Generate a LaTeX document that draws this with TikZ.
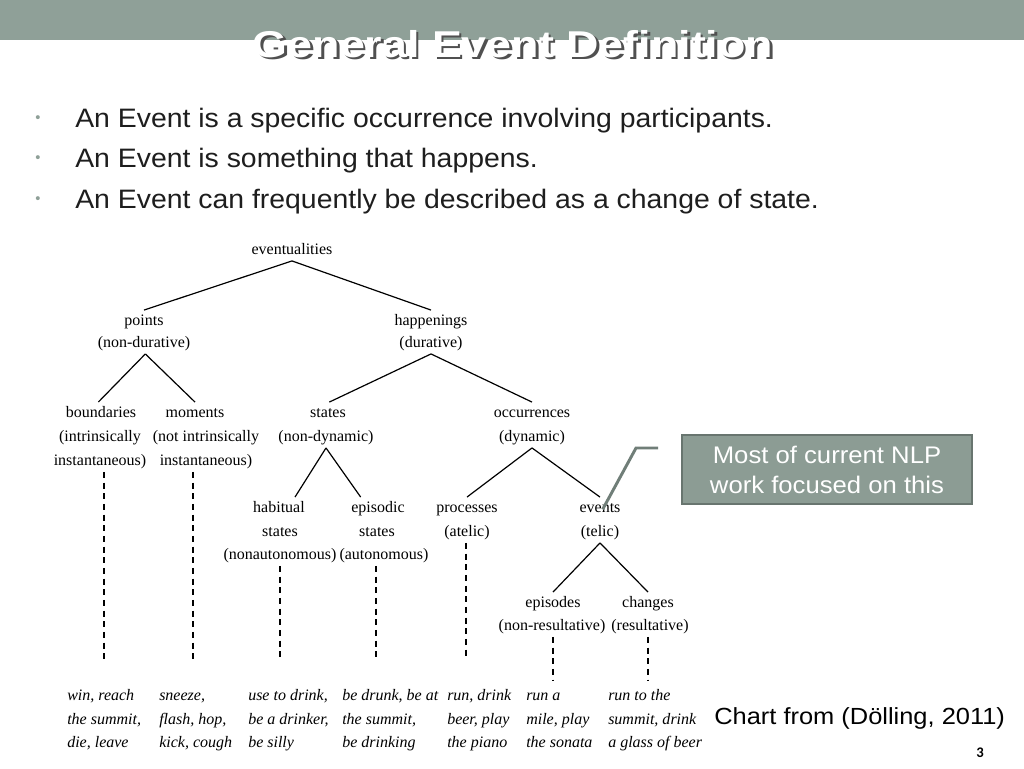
\documentclass[tikz,border=0pt]{standalone}
\usepackage{fontspec}
\setmainfont{Liberation Serif}
\newfontfamily\arial{Liberation Sans}
\newfontfamily\arialwide[FakeStretch=1.065]{Liberation Sans}
\newfontfamily\arialtitle[FakeStretch=1.2]{Liberation Sans}
\newfontfamily\arialbox[FakeStretch=1.07]{Liberation Sans}
\newfontfamily\arialcite[FakeStretch=1.09]{Liberation Sans}
\newfontfamily\carl{Carlito}
\usetikzlibrary{calc}
\definecolor{bar}{RGB}{143,160,152}
\definecolor{boxfill}{RGB}{140,156,148}
\definecolor{boxline}{RGB}{104,117,111}
\definecolor{callout}{RGB}{112,126,120}
\definecolor{shadowc}{RGB}{80,80,80}
\definecolor{bodytext}{RGB}{30,30,30}
\newcommand{\shadowtitle}[1]{\rlap{\kern1.9pt\raisebox{-1.9pt}{\color{shadowc}#1}}#1}
\begin{document}
\begin{tikzpicture}[x=0.75pt,y=-0.75pt,
  tl/.style={font=\fontsize{12}{14}\selectfont, inner sep=2.5pt, text height=8.5pt, text depth=2.5pt, anchor=base},
  br/.style={line width=0.9pt, black},
  dl/.style={line width=1.1pt, dash pattern=on 4.5pt off 3.5pt},
  extext/.style={font=\fontsize{12}{17.6}\selectfont\itshape, align=left, anchor=north west, inner sep=0pt},
  bultext/.style={font=\arialwide\fontsize{20}{22}\selectfont, text=bodytext, anchor=base west, inner sep=0pt},
  buldot/.style={font=\arial\fontsize{11}{12}\selectfont, text=bar, inner sep=0pt},
  notebox/.style={fill=boxfill, draw=boxline, line width=1.5pt, text=white, align=center,
    font=\arialbox\fontsize{18}{22.5}\selectfont, minimum width=217pt, minimum height=52pt, inner sep=0pt},
  titletext/.style={font=\arialtitle\bfseries\fontsize{28}{30}\selectfont, anchor=base, inner sep=0pt}
]
\useasboundingbox (0,0) rectangle (1024,768);
\fill[white] (0,0) rectangle (1024,768);
\fill[bar] (0,0) rectangle (1024,40);

% title (with shadow)
\node[titletext, text=white] (title) at (513,57) {\shadowtitle{General Event Definition}};

% bullets
\node[buldot] (b1) at (38,119) {•};
\node[buldot] (b2) at (38,159) {•};
\node[buldot] (b3) at (38,200) {•};
\node[bultext] (t1) at (75,127) {An Event is a specific occurrence involving participants.};
\node[bultext] (t2) at (75,167) {An Event is something that happens.};
\node[bultext] (t3) at (75,208) {An Event can frequently be described as a change of state.};

% tree
\node[tl] (ev) at (292,254) {eventualities};
\node[tl] (pts) at (144,325) {points};
\node[tl] (ptsd) at (144,347) {(non-durative)};
\node[tl] (hap) at (431,325) {happenings};
\node[tl] (hapd) at (431,347) {(durative)};
\node[tl] (bnd) at (101,417) {boundaries};
\node[tl] (bnd1) at (100,441) {(intrinsically};
\node[tl] (bnd2) at (100,465) {instantaneous)};
\node[tl] (mom) at (195,417) {moments};
\node[tl] (mom1) at (206,441) {(not intrinsically};
\node[tl] (mom2) at (206,465) {instantaneous)};
\node[tl] (sta) at (328,417) {states};
\node[tl] (stad) at (326,441) {(non-dynamic)};
\node[tl] (occ) at (532,417) {occurrences};
\node[tl] (occd) at (532,441) {(dynamic)};
\node[tl] (hab) at (279,512) {habitual};
\node[tl] (hab1) at (280,536) {states};
\node[tl] (hab2) at (280,559) {(nonautonomous)};
\node[tl] (epi) at (378,512) {episodic};
\node[tl] (epi1) at (377,536) {states};
\node[tl] (epi2) at (384,559) {(autonomous)};
\node[tl] (pro) at (467,512) {processes};
\node[tl] (prod) at (467,536) {(atelic)};
\node[tl] (evt) at (600,512) {events};
\node[tl] (evtd) at (600,536) {(telic)};
\node[tl] (eps) at (553,607) {episodes};
\node[tl] (epsd) at (552,630) {(non-resultative)};
\node[tl] (chg) at (648,607) {changes};
\node[tl] (chgd) at (650,630) {(resultative)};

\draw[br] (ev.south) -- (pts.north);
\draw[br] (ev.south) -- (hap.north);
\draw[br] ([xshift=1pt]ptsd.south) -- ([xshift=-2pt]bnd.north);
\draw[br] ([xshift=1pt]ptsd.south) -- (mom.north);
\draw[br] (hapd.south) -- ([xshift=1pt]sta.north);
\draw[br] (hapd.south) -- (occ.north);
\draw[br] (stad.south) -- ([xshift=12pt]hab.north);
\draw[br] (stad.south) -- ([xshift=-13pt]epi.north);
\draw[br] (occd.south) -- (pro.north);
\draw[br] (occd.south) -- (evt.north);
\draw[br] (evtd.south) -- (eps.north);
\draw[br] (evtd.south) -- (chg.north);

% dashed links
\coordinate (d1) at (104,660);
\coordinate (d2) at (193,660);
\coordinate (d3) at (280,660);
\coordinate (d4) at (376,660);
\coordinate (d5) at (466,660);
\coordinate (d6) at (553,681);
\coordinate (d7) at (648,681);
\draw[dl] (bnd2.south -| d1) -- (d1);
\draw[dl] (mom2.south -| d2) -- (d2);
\draw[dl] (hab2.south -| d3) -- (d3);
\draw[dl] (epi2.south -| d4) -- (d4);
\draw[dl] (prod.south -| d5) -- (d5);
\draw[dl] (epsd.south -| d6) -- (d6);
\draw[dl] (chgd.south -| d7) -- (d7);

% examples
\node[extext] (ex1) at (67,684) {\strut win, reach\\the summit,\\die, leave};
\node[extext] (ex2) at (159,684) {\strut sneeze,\\flash, hop,\\kick, cough};
\node[extext] (ex3) at (248,684) {\strut use to drink,\\be a drinker,\\be silly};
\node[extext] (ex4) at (342,684) {\strut be drunk, be at\\the summit,\\be drinking};
\node[extext] (ex5) at (447,684) {\strut run, drink\\beer, play\\the piano};
\node[extext] (ex6) at (526,684) {\strut run a\\mile, play\\the sonata};
\node[extext] (ex7) at (608,684) {\strut run to the\\summit, drink\\a glass of beer};

% note box and callout
\node[notebox] (note) at (827,469.5) {Most of current NLP\\work focused on this};
\coordinate (c1) at (658,448);
\coordinate (c2) at (636,448);
\draw[callout, line width=2.2pt] (c1) -- (c2) -- ([xshift=2pt,yshift=-1pt]evt.center);

% citation and page number
\node[font=\arialcite\fontsize{17.5}{18}\selectfont, anchor=base west, inner sep=0pt] (cite) at (714,724) {Chart from (Dölling, 2011)};
\node[font=\carl\bfseries\fontsize{11}{12}\selectfont, anchor=base, inner sep=0pt] (pg) at (980,757) {3};
\end{tikzpicture}
\end{document}
